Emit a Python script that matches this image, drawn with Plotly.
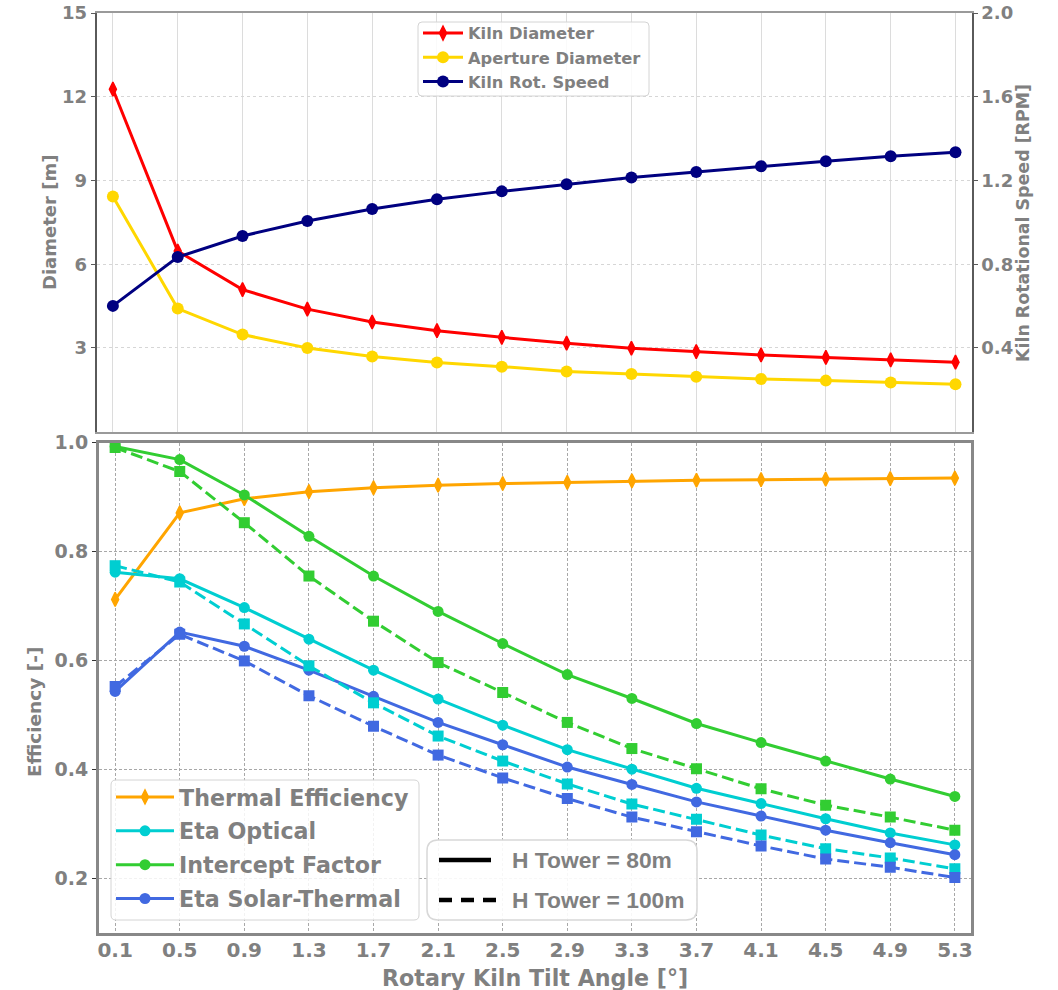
import plotly.graph_objects as go

# ---- data -------------------------------------------------------------
angles = [0.1, 0.5, 0.9, 1.3, 1.7, 2.1, 2.5, 2.9, 3.3, 3.7, 4.1, 4.5, 4.9, 5.3]
angle_labels = ["0.1", "0.5", "0.9", "1.3", "1.7", "2.1", "2.5",
                "2.9", "3.3", "3.7", "4.1", "4.5", "4.9", "5.3"]

kiln_diameter = [12.27, 6.47, 5.09, 4.39, 3.93, 3.62, 3.38, 3.17, 2.99, 2.87, 2.75, 2.66, 2.57, 2.49]
aperture_diameter = [8.43, 4.41, 3.48, 3.00, 2.69, 2.48, 2.33, 2.16, 2.07, 1.97, 1.89, 1.83, 1.76, 1.70]
kiln_speed = [0.601, 0.834, 0.935, 1.006, 1.064, 1.110, 1.148, 1.182, 1.214, 1.241, 1.268, 1.292, 1.316, 1.335]

thermal_eff = [0.712, 0.871, 0.897, 0.910, 0.917, 0.922, 0.925, 0.927, 0.930, 0.931, 0.932, 0.933, 0.934, 0.935]
optical_80 = [0.762, 0.750, 0.697, 0.639, 0.582, 0.529, 0.481, 0.436, 0.400, 0.365, 0.337, 0.309, 0.283, 0.261]
optical_100 = [0.774, 0.744, 0.667, 0.590, 0.522, 0.461, 0.415, 0.373, 0.336, 0.308, 0.279, 0.254, 0.237, 0.217]
intercept_80 = [0.993, 0.969, 0.904, 0.828, 0.755, 0.690, 0.631, 0.574, 0.530, 0.484, 0.449, 0.415, 0.382, 0.350]
intercept_100 = [0.991, 0.947, 0.853, 0.755, 0.672, 0.596, 0.541, 0.486, 0.438, 0.401, 0.364, 0.334, 0.312, 0.288]
solar_80 = [0.543, 0.652, 0.626, 0.582, 0.534, 0.486, 0.445, 0.404, 0.372, 0.340, 0.314, 0.288, 0.265, 0.243]
solar_100 = [0.552, 0.648, 0.599, 0.535, 0.479, 0.426, 0.384, 0.346, 0.312, 0.285, 0.259, 0.235, 0.220, 0.201]

diam_ticks = [3, 6, 9, 12, 15]
speed_ticks = [0.4, 0.8, 1.2, 1.6, 2.0]
speed_labels = ["0.4", "0.8", "1.2", "1.6", "2.0"]
eff_ticks = [0.2, 0.4, 0.6, 0.8, 1.0]
eff_labels = ["0.2", "0.4", "0.6", "0.8", "1.0"]

# ---- page geometry helpers (pixel -> paper fraction) ------------------
W, H = 1058, 990
GRAY = "#808080"
FAMILY = "DejaVu Sans"


def px(x):
    return x / W


def py(y):
    return 1 - y / H


def bold(size, color=GRAY, family=FAMILY):
    return dict(family=family, size=size, color=color, weight="bold")


def rounded_box(x0, y0, x1, y1, r):
    X0, X1, Yt, Yb = px(x0), px(x1), py(y0), py(y1)
    rx, ry = r / W, r / H
    return (f"M{X0 + rx},{Yt} L{X1 - rx},{Yt} Q{X1},{Yt} {X1},{Yt - ry} "
            f"L{X1},{Yb + ry} Q{X1},{Yb} {X1 - rx},{Yb} L{X0 + rx},{Yb} "
            f"Q{X0},{Yb} {X0},{Yb + ry} L{X0},{Yt - ry} Q{X0},{Yt} {X0 + rx},{Yt} Z")


DASH = "12px,5px"
fig = go.Figure()

# ---- upper panel: kiln geometry and rotational speed -------------------
fig.add_trace(go.Scatter(
    x=angles, y=kiln_diameter, name="Kiln Diameter", mode="lines+markers",
    line=dict(color="#ff0000", width=3),
    marker=dict(symbol="diamond-tall", size=10, line=dict(color="#ff0000", width=1.5)),
    xaxis="x", yaxis="y", legend="legend", legendgroup="kd"))
fig.add_trace(go.Scatter(
    x=angles, y=aperture_diameter, name="Aperture Diameter", mode="lines+markers",
    line=dict(color="#ffd700", width=3), marker=dict(symbol="circle", size=12),
    xaxis="x", yaxis="y", legend="legend", legendgroup="ad"))
fig.add_trace(go.Scatter(
    x=angles, y=kiln_speed, name="Kiln Rot. Speed", mode="lines+markers",
    line=dict(color="#000080", width=3), marker=dict(symbol="circle", size=12),
    xaxis="x", yaxis="y2", legend="legend", legendgroup="ks"))

# ---- lower panel: efficiencies for both tower heights -------------------
fig.add_trace(go.Scatter(
    x=angles, y=thermal_eff, name="Thermal Efficiency", mode="lines+markers",
    line=dict(color="#ffa500", width=3),
    marker=dict(symbol="diamond-tall", size=10, line=dict(color="#ffa500", width=1.5)),
    xaxis="x2", yaxis="y3", legend="legend2", legendgroup="te"))

series = [
    ("Eta Optical", "#00ced1", optical_80, optical_100, "eo"),
    ("Intercept Factor", "#32cd32", intercept_80, intercept_100, "if"),
    ("Eta Solar-Thermal", "#4169e1", solar_80, solar_100, "es"),
]
for name, color, v80, v100, grp in series:
    fig.add_trace(go.Scatter(
        x=angles, y=v80, name=name, mode="lines+markers",
        line=dict(color=color, width=3), marker=dict(symbol="circle", size=11),
        xaxis="x2", yaxis="y3", legend="legend2", legendgroup=grp))
for name, color, v80, v100, grp in series:
    fig.add_trace(go.Scatter(
        x=angles, y=v100, name=name + " (100 m)", mode="lines+markers",
        line=dict(color=color, width=3, dash=DASH), marker=dict(symbol="square", size=11),
        xaxis="x2", yaxis="y3", showlegend=False))

# ---- legend frames and tower-height key -------------------------------
shapes = [
    dict(type="path", xref="paper", yref="paper", layer="above",
         path=rounded_box(418, 22, 649, 96, 4),
         fillcolor="rgba(255,255,255,0.85)", line=dict(color="#d4d4d4", width=1)),
    dict(type="path", xref="paper", yref="paper", layer="above",
         path=rounded_box(111, 780, 419, 920, 5),
         fillcolor="rgba(255,255,255,0.85)", line=dict(color="#d4d4d4", width=1)),
    dict(type="path", xref="paper", yref="paper", layer="above",
         path=rounded_box(427, 840, 697, 920, 11),
         fillcolor="rgba(255,255,255,0.9)", line=dict(color="#d8d8d8", width=1.5)),
    dict(type="line", xref="paper", yref="paper", layer="above",
         x0=px(439), x1=px(491), y0=py(860), y1=py(860),
         line=dict(color="black", width=4.5)),
    dict(type="line", xref="paper", yref="paper", layer="above",
         x0=px(439), x1=px(497), y0=py(900), y1=py(900),
         line=dict(color="black", width=4.5, dash="13px,9px")),
]

annotations = [
    dict(text="Diameter [m]", x=px(49), y=py(223), xref="paper", yref="paper",
         textangle=-90, showarrow=False, font=bold(18), xanchor="center", yanchor="middle"),
    dict(text="Kiln Rotational Speed [RPM]", x=px(1023), y=py(223), xref="paper", yref="paper",
         textangle=-90, showarrow=False, font=bold(17.4), xanchor="center", yanchor="middle"),
    dict(text="Efficiency [-]", x=px(34), y=py(712), xref="paper", yref="paper",
         textangle=-90, showarrow=False, font=bold(18.5), xanchor="center", yanchor="middle"),
    dict(text="Rotary Kiln Tilt Angle [°]", x=px(535), y=py(977.5), xref="paper", yref="paper",
         showarrow=False, font=bold(22.2), xanchor="center", yanchor="middle"),
    dict(text="H Tower = 80m", x=px(510), y=py(860), xref="paper", yref="paper",
         showarrow=False, font=bold(22.8, family="Liberation Sans"), xanchor="left", yanchor="middle"),
    dict(text="H Tower = 100m", x=px(510), y=py(900), xref="paper", yref="paper",
         showarrow=False, font=bold(22.8, family="Liberation Sans"), xanchor="left", yanchor="middle"),
]

fig.update_layout(
    width=W, height=H,
    margin=dict(l=0, r=0, t=0, b=0, pad=0, autoexpand=False),
    paper_bgcolor="white", plot_bgcolor="white",
    font=dict(family=FAMILY, color=GRAY),
    showlegend=True,
    xaxis=dict(domain=[px(96.7), px(971.7)], anchor="y", range=[0, 5.4],
               tickvals=angles, showticklabels=False, ticks="",
               showgrid=True, gridcolor="#dcdcdc", gridwidth=1, zeroline=False,
               showline=True, mirror=True, linecolor="#9a9a9a", linewidth=2),
    yaxis=dict(domain=[py(431.7), py(13)], anchor="x", range=[0, 15],
               tickvals=diam_ticks, tickfont=bold(18),
               showgrid=True, gridcolor="#d6d6d6", griddash="dot", gridwidth=1, zeroline=False,
               showline=True, linecolor="#5a5a5a", linewidth=2,
               ticks="outside", ticklen=4, tickcolor="#5a5a5a"),
    yaxis2=dict(overlaying="y", side="right", anchor="x", range=[0, 2.0],
                tickvals=speed_ticks, ticktext=speed_labels, tickfont=bold(18),
                showgrid=False, zeroline=False,
                showline=True, linecolor="#5a5a5a", linewidth=2,
                ticks="outside", ticklen=4, tickcolor="#5a5a5a"),
    xaxis2=dict(domain=[px(99), px(971)], anchor="y3", range=[0, 5.4],
                tickvals=angles, ticktext=angle_labels, tickfont=bold(20),
                ticklabelstandoff=-3,
                showgrid=True, gridcolor="#a8a8a8", griddash="3px,2px", gridwidth=1,
                zeroline=False, ticks="",
                showline=True, mirror=True, linecolor="#888888", linewidth=3),
    yaxis3=dict(domain=[py(932.5), py(442.7)], anchor="x2", range=[0.1, 1.0],
                tickvals=eff_ticks, ticktext=eff_labels, tickfont=bold(19),
                showgrid=True, gridcolor="#a8a8a8", griddash="3px,2px", gridwidth=1,
                zeroline=False,
                showline=True, mirror=True, linecolor="#888888", linewidth=3,
                ticks="outside", ticklen=4, tickcolor="#333333"),
    legend=dict(x=px(418), y=py(16), xanchor="left", yanchor="top",
                bgcolor="rgba(0,0,0,0)", borderwidth=0, font=bold(16.3),
                itemwidth=40, tracegroupgap=0),
    legend2=dict(x=px(111), y=py(776), xanchor="left", yanchor="top",
                 bgcolor="rgba(0,0,0,0)", borderwidth=0, font=bold(22.2),
                 itemwidth=58, tracegroupgap=2),
    shapes=shapes,
    annotations=annotations,
)

fig.write_html("out.html")
